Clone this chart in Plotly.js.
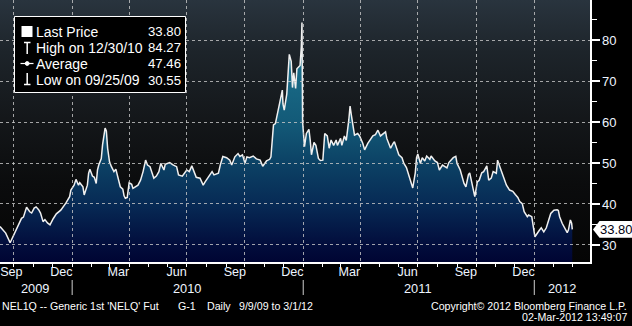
<!DOCTYPE html>
<html><head><meta charset="utf-8">
<script src="https://cdn.plot.ly/plotly-3.0.1.min.js"></script>
<style>html,body{margin:0;padding:0;background:#000;}#chart{width:632px;height:326px;}</style>
</head><body><div id="chart"></div>
<script>
const dates = [
'2009-09-09','2009-09-14','2009-09-18','2009-09-25','2009-10-02','2009-10-08','2009-10-13','2009-10-16','2009-10-21','2009-10-26',
'2009-10-29','2009-11-02','2009-11-05','2009-11-09','2009-11-12','2009-11-16','2009-11-19','2009-11-23','2009-11-27','2009-12-02',
'2009-12-07','2009-12-14','2009-12-18','2009-12-22','2009-12-28','2009-12-30','2010-01-04','2010-01-07','2010-01-11','2010-01-13',
'2010-01-18','2010-01-20','2010-01-25','2010-01-27','2010-01-29','2010-02-02','2010-02-05','2010-02-08','2010-02-10','2010-02-12',
'2010-02-16','2010-02-18','2010-02-22','2010-02-24','2010-02-26','2010-03-01','2010-03-04','2010-03-08','2010-03-11','2010-03-15',
'2010-03-18','2010-03-22','2010-03-24','2010-03-26','2010-03-29','2010-04-01','2010-04-05','2010-04-07','2010-04-12','2010-04-15',
'2010-04-19','2010-04-23','2010-04-27','2010-04-30','2010-05-04','2010-05-10','2010-05-14','2010-05-18','2010-05-21','2010-05-26',
'2010-05-28','2010-06-04','2010-06-10','2010-06-15','2010-06-18','2010-06-24','2010-07-01','2010-07-05','2010-07-09','2010-07-12',
'2010-07-16','2010-07-22','2010-07-27','2010-07-30','2010-08-05','2010-08-10','2010-08-13','2010-08-20','2010-08-23','2010-08-27',
'2010-09-02','2010-09-07','2010-09-10','2010-09-15','2010-09-20','2010-09-23','2010-09-27','2010-10-01','2010-10-04','2010-10-08',
'2010-10-14','2010-10-19','2010-10-25','2010-10-29','2010-11-04','2010-11-09','2010-11-11','2010-11-12','2010-11-15','2010-11-18',
'2010-11-22','2010-11-24','2010-11-26','2010-11-29','2010-11-30','2010-12-02','2010-12-06','2010-12-08','2010-12-10','2010-12-13',
'2010-12-15','2010-12-17','2010-12-20','2010-12-22','2010-12-27','2010-12-29','2010-12-30','2010-12-31','2011-01-03','2011-01-06',
'2011-01-10','2011-01-12','2011-01-14','2011-01-18','2011-01-21','2011-01-25','2011-01-28','2011-02-01','2011-02-04','2011-02-08',
'2011-02-11','2011-02-14','2011-02-18','2011-02-22','2011-02-24','2011-03-01','2011-03-03','2011-03-07','2011-03-10','2011-03-14',
'2011-03-16','2011-03-18','2011-03-23','2011-03-28','2011-03-31','2011-04-05','2011-04-08','2011-04-13','2011-04-18','2011-04-21',
'2011-04-25','2011-04-29','2011-05-03','2011-05-06','2011-05-11','2011-05-13','2011-05-19','2011-05-23','2011-05-25','2011-05-27',
'2011-06-01','2011-06-06','2011-06-09','2011-06-13','2011-06-17','2011-06-21','2011-06-23','2011-06-27','2011-06-29','2011-07-01',
'2011-07-05','2011-07-08','2011-07-12','2011-07-15','2011-07-20','2011-07-22','2011-07-28','2011-08-01','2011-08-04','2011-08-09',
'2011-08-12','2011-08-16','2011-08-19','2011-08-23','2011-08-26','2011-08-30','2011-09-01','2011-09-06','2011-09-09','2011-09-12',
'2011-09-15','2011-09-19','2011-09-21','2011-09-26','2011-09-29','2011-10-03','2011-10-06','2011-10-10','2011-10-13','2011-10-18',
'2011-10-21','2011-10-25','2011-10-28','2011-11-02','2011-11-04','2011-11-08','2011-11-11','2011-11-16','2011-11-18','2011-11-23',
'2011-11-28','2011-12-02','2011-12-06','2011-12-09','2011-12-13','2011-12-16','2011-12-21','2011-12-23','2011-12-28','2012-01-02',
'2012-01-05','2012-01-09','2012-01-12','2012-01-16','2012-01-20','2012-01-24','2012-01-27','2012-02-01','2012-02-06','2012-02-08',
'2012-02-10','2012-02-14','2012-02-17','2012-02-22','2012-02-24','2012-02-27','2012-02-29','2012-03-01'
];
const prices = [
34.5,33.7,32.9,30.55,32.9,34.5,36.5,36.8,39.2,38.1,
37.8,39.0,39.3,38.6,37.8,35.7,36.2,35.4,34.9,36.4,
37.6,38.5,39.3,40.2,41.8,43.4,44.6,46.0,44.6,45.2,
44.2,42.2,44.6,47.5,48.5,46.8,46.5,45.0,48.3,49.5,
51.1,54.4,58.5,57.8,53.6,50.3,49.1,47.9,48.5,45.9,
44.2,43.6,42.0,41.4,41.6,45.2,44.8,43.8,44.2,44.6,
45.8,47.9,50.7,49.5,49.1,46.3,46.8,47.9,49.9,48.3,
49.7,50.1,49.5,49.1,47.1,46.8,48.3,47.9,49.3,47.9,
46.5,46.3,44.6,45.4,46.8,47.9,47.1,47.5,49.5,51.6,
51.3,50.7,49.5,51.5,52.3,51.6,52.0,49.9,51.5,51.3,
51.7,51.0,50.7,49.2,50.5,50.9,51.5,54.0,59.3,59.6,
62.5,63.3,65.4,67.8,64.4,62.9,66.8,73.5,76.5,74.8,
68.4,72.0,68.2,73.0,73.8,78.4,84.27,60.0,54.0,57.2,
58.2,55.6,52.0,55.0,54.3,51.1,50.6,50.7,57.2,56.6,
53.6,55.6,54.3,55.6,54.3,56.0,54.3,56.6,55.5,60.5,
63.9,61.7,56.8,57.2,56.6,54.8,53.2,54.8,56.0,56.6,
56.9,58.0,56.6,56.9,57.6,56.0,53.6,54.8,55.2,54.3,
52.0,51.3,49.9,48.9,46.7,44.6,43.9,47.6,51.3,52.2,
49.9,51.3,50.5,51.7,50.9,51.7,50.5,50.1,48.3,49.5,
49.1,48.8,50.1,50.7,51.3,51.6,49.9,48.3,46.7,45.0,
44.2,47.2,47.6,43.9,41.8,45.4,45.8,47.6,47.9,49.3,
45.8,46.3,47.9,47.5,50.7,48.9,47.6,45.8,44.6,43.4,
43.1,42.3,41.6,40.6,40.1,38.1,36.9,37.3,36.9,32.0,
32.8,33.6,34.2,33.2,34.2,36.1,37.7,38.5,38.6,38.4,
36.9,35.3,34.5,33.0,33.7,36.1,35.3,33.8
];
const legendLabels = ['Last Price','High on 12/30/10','Average','Low on 09/25/09'];
const legendValues = ['33.80','84.27','47.46','30.55'];
const lastPrice = 33.80;
const yTicks = [30,40,50,60,70,80];
const monthLabelDates = ['2009-09-27','2009-12-15','2010-03-15','2010-06-15','2010-09-15','2010-12-15','2011-03-15','2011-06-15','2011-09-15','2011-12-15'];
const monthLabels = ['Sep','Dec','Mar','Jun','Sep','Dec','Mar','Jun','Sep','Dec'];
const yearLabelDates = ['2009-11-04','2010-07-02','2011-07-02','2012-02-14'];
const yearLabels = ['2009','2010','2011','2012'];
const yearStarts = ['2010-01-01','2011-01-01','2012-01-01'];
const footerLeft = ["NEL1Q -- Generic 1st 'NELQ' Fut", 'G-1', 'Daily', '9/9/09 to 3/1/12'];
const footerRight = ['Copyright\u00a9 2012 Bloomberg Finance L.P.', '02-Mar-2012 13:49:07'];

const xRange = ['2009-09-09','2012-03-29'];
const yRange = [25.85, 89.76];
const W = 590, H = 262;
const PX = v => v / W, PY = v => 1 - v / H;
const t0 = Date.parse(xRange[0]), t1 = Date.parse(xRange[1]);
const dateToPaper = d => (Date.parse(d) - t0) / (t1 - t0);
const valToPaper = v => (v - yRange[0]) / (yRange[1] - yRange[0]);

const FONT = 'Liberation Sans, Arial, sans-serif';
const txtColor = '#eef5ff';

const traces = [
  { // plot-area background gradient
    x: xRange, y: [yRange[1], yRange[1]], xaxis: 'x', yaxis: 'y', mode: 'none', fill: 'tozeroy',
    fillgradient: { type: 'vertical', start: yRange[0], stop: yRange[1],
      colorscale: [[0,'#050505'],[0.3,'#0b0c0d'],[0.55,'#14171a'],[0.8,'#1d242a'],[1,'#29343e']] },
    hoverinfo: 'skip'
  },
  {
    x: dates, y: prices, xaxis: 'x', yaxis: 'y', mode: 'lines',
    line: { color: '#f0f0f0', width: 1.5 }, fill: 'tozeroy',
    fillgradient: { type: 'vertical', start: yRange[0], stop: yRange[1],
      colorscale: [[0,'#000533'],[0.065,'#020d3c'],[0.22,'#072a55'],[0.378,'#0c4265'],[0.534,'#135a78'],[0.85,'#1d7590'],[1,'#2386a0']] },
    hoverinfo: 'skip'
  },
  { x: [], y: [], xaxis: 'x2', yaxis: 'y2', mode: 'lines' },
  { x: [], y: [], xaxis: 'x3', yaxis: 'y2', mode: 'lines' }
];

const gridColor = 'rgba(200,200,200,0.8)';
const shapes = [];
const annotations = [];

// legend box
shapes.push({ type: 'rect', xref: 'paper', yref: 'paper', x0: PX(14.5), x1: PX(185.5), y0: PY(92.5), y1: PY(16.5),
  fillcolor: '#000', line: { color: '#ffffff', width: 1 }, layer: 'above' });
// legend symbols
shapes.push({ type: 'rect', xref: 'paper', yref: 'paper', x0: PX(21.5), x1: PX(32.5), y0: PY(37), y1: PY(26), fillcolor: '#fff', line: { width: 0 }, layer: 'above' });
const L = (x0, y0, x1, y1, w) => shapes.push({ type: 'line', xref: 'paper', yref: 'paper', x0: PX(x0), y0: PY(y0), x1: PX(x1), y1: PY(y1), line: { color: '#fff', width: w || 1.5 }, layer: 'above' });
L(24, 42.5, 30.5, 42.5); L(27.2, 42.5, 27.2, 54);
L(20.5, 63.5, 33.5, 63.5, 1.2);
shapes.push({ type: 'circle', xref: 'paper', yref: 'paper', x0: PX(25.3), x1: PX(29.1), y0: PY(65.4), y1: PY(61.6), fillcolor: '#fff', line: { color: '#fff', width: 1 }, layer: 'above' });
L(27.2, 73, 27.2, 84.5); L(24, 84.5, 30.5, 84.5);

const rowY = [32, 48, 64, 80];
legendLabels.forEach((t, i) => {
  annotations.push({ xref: 'paper', yref: 'paper', x: PX(34), y: PY(rowY[i]), xanchor: 'left', yanchor: 'middle', text: t, showarrow: false, font: { family: FONT, size: 14, color: '#ffffff' } });
  annotations.push({ xref: 'paper', yref: 'paper', x: PX(183), y: PY(rowY[i]), xanchor: 'right', yanchor: 'middle', text: legendValues[i], showarrow: false, font: { family: FONT, size: 13.2, color: '#ffffff' } });
});

// last-price tag
const tagC = valToPaper(lastPrice), tagH = 8.3 / H;
shapes.push({ type: 'path', xref: 'paper', yref: 'paper', layer: 'above',
  path: `M ${PX(593)},${tagC} L ${PX(599.5)},${tagC + tagH} L ${PX(640)},${tagC + tagH} L ${PX(640)},${tagC - tagH} L ${PX(599.5)},${tagC - tagH} Z`,
  fillcolor: '#ffffff', line: { width: 0 } });
annotations.push({ xref: 'paper', yref: 'paper', x: PX(597.5), y: tagC, xanchor: 'left', yanchor: 'middle', text: lastPrice.toFixed(2), showarrow: false, font: { family: FONT, size: 13, color: '#000010' } });

// year separators and labels
yearStarts.forEach(d => {
  shapes.push({ type: 'line', xref: 'paper', yref: 'paper', x0: dateToPaper(d), x1: dateToPaper(d), y0: PY(280), y1: PY(295), line: { color: '#cfcfcf', width: 1 } });
});
yearLabelDates.forEach((d, i) => {
  annotations.push({ xref: 'x', yref: 'paper', x: d, y: PY(288), xanchor: 'center', yanchor: 'middle', text: yearLabels[i], showarrow: false, font: { family: FONT, size: 12.8, color: txtColor } });
});

// footer
const footerX = [0, 176, 205, 237];
footerLeft.forEach((t, i) => {
  annotations.push({ xref: 'paper', yref: 'paper', x: PX(footerX[i]), y: PY(305.5), xanchor: 'left', yanchor: 'middle', text: t, showarrow: false, font: { family: FONT, size: 10.65, color: '#ffffff' } });
});
footerRight.forEach((t, i) => {
  annotations.push({ xref: 'paper', yref: 'paper', x: PX(629), y: PY(305.5 + 11.7 * i), xanchor: 'right', yanchor: 'middle', text: t, showarrow: false, font: { family: FONT, size: 10.65, color: '#ffffff' } });
});

const layout = {
  width: 632, height: 326,
  margin: { l: 0, r: 42, t: 0, b: 64 },
  paper_bgcolor: '#000000', plot_bgcolor: 'rgba(0,0,0,0)',
  showlegend: false,
  xaxis: { type: 'date', range: xRange, visible: false, domain: [0, 1], fixedrange: true },
  yaxis: { range: yRange, visible: false, fixedrange: true },
  xaxis2: { type: 'date', range: xRange, anchor: 'y2', domain: [0, 1],
    tick0: '2009-10-01', dtick: 'M3', showgrid: true, gridcolor: gridColor, griddash: 'dot', gridwidth: 1,
    ticks: 'outside', ticklen: 3, tickwidth: 1, tickcolor: '#ffffff', showticklabels: false,
    showline: true, linecolor: '#ffffff', linewidth: 1.5, zeroline: false,
    minor: { tick0: '2009-10-01', dtick: 'M1', ticks: 'outside', ticklen: 3, tickwidth: 1, tickcolor: '#ffffff', showgrid: false } },
  xaxis3: { type: 'date', range: xRange, overlaying: 'x2', anchor: 'y2',
    tickmode: 'array', tickvals: monthLabelDates, ticktext: monthLabels, ticks: '', showgrid: false, showline: false, zeroline: false,
    tickfont: { family: FONT, size: 12.6, color: txtColor } },
  yaxis2: { range: yRange, anchor: 'x2', side: 'right', domain: [0, 1],
    tickmode: 'array', tickvals: yTicks, ticktext: yTicks.map(String),
    showgrid: true, gridcolor: gridColor, griddash: 'dot', gridwidth: 1,
    ticks: 'outside', ticklen: 8, tickwidth: 2, tickcolor: '#ffffff',
    showline: true, linecolor: '#ffffff', linewidth: 1.5, zeroline: false,
    tickfont: { family: FONT, size: 13, color: txtColor },
    minor: { tick0: 25, dtick: 10, ticks: 'outside', ticklen: 5, tickwidth: 1, tickcolor: '#ffffff', showgrid: false } },
  shapes: shapes,
  annotations: annotations
};

Plotly.newPlot('chart', traces, layout, { staticPlot: true, displayModeBar: false });
</script>
</body></html>
